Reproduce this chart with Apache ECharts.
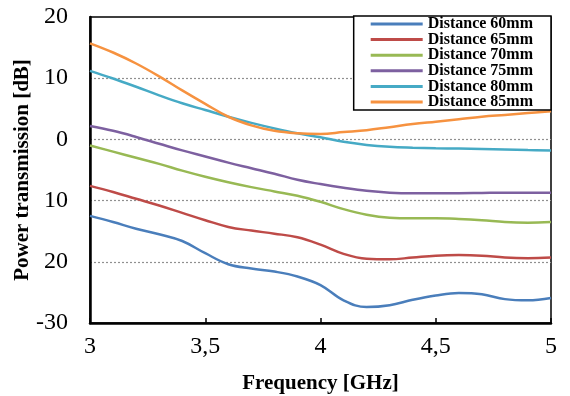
<!DOCTYPE html>
<html>
<head>
<meta charset="utf-8">
<script src="https://cdn.jsdelivr.net/npm/echarts@6/dist/echarts.min.js"></script>
<style>
  html, body { margin: 0; padding: 0; background: #fff; }
  #chart { width: 570px; height: 396px; }
</style>
</head>
<body>
<div id="chart"></div>
<script>
const freq = [3.0, 3.1, 3.2, 3.3, 3.4, 3.5, 3.6, 3.7, 3.8, 3.9, 4.0, 4.1, 4.2, 4.3, 4.4, 4.5, 4.6, 4.7, 4.8, 4.9, 5.0];

const d60 = [-12.5, -13.5, -14.6, -15.5, -16.6, -18.6, -20.4, -21.1, -21.6, -22.4, -23.8, -26.3, -27.4, -27.1, -26.2, -25.5, -25.1, -25.3, -26.1, -26.3, -25.9];
const d65 = [-7.6, -8.6, -9.7, -10.8, -12.0, -13.2, -14.3, -14.9, -15.4, -16.0, -17.2, -18.7, -19.5, -19.6, -19.3, -19.0, -18.9, -19.0, -19.3, -19.4, -19.3];
const d70 = [-1.0, -2.0, -3.0, -4.0, -5.1, -6.1, -7.0, -7.8, -8.5, -9.2, -10.2, -11.4, -12.3, -12.8, -12.9, -12.9, -13.0, -13.2, -13.5, -13.6, -13.5];
const d75 = [2.2, 1.4, 0.4, -0.7, -1.8, -2.8, -3.8, -4.7, -5.6, -6.6, -7.3, -7.9, -8.4, -8.7, -8.8, -8.8, -8.8, -8.75, -8.7, -8.7, -8.7];
const d80 = [11.2, 9.95, 8.6, 7.2, 5.9, 4.8, 3.7, 2.7, 1.8, 1.0, 0.35, -0.4, -0.9, -1.2, -1.35, -1.45, -1.5, -1.55, -1.65, -1.75, -1.8];
const d85 = [15.7, 14.2, 12.4, 10.3, 8.0, 5.8, 3.7, 2.3, 1.4, 1.0, 0.9, 1.2, 1.5, 2.0, 2.5, 2.9, 3.3, 3.7, 4.0, 4.3, 4.6];

const seriesNames = ['Distance 60mm', 'Distance 65mm', 'Distance 70mm', 'Distance 75mm', 'Distance 80mm', 'Distance 85mm'];
const seriesData = [d60, d65, d70, d75, d80, d85];
const colors = ['#4A7EBB', '#BE4B48', '#98B954', '#7D60A0', '#46AAC5', '#F69240'];

const yTickValues = [-30, -20, -10, 0, 10, 20];
const yTickLabels = ['-30', '20', '10', '0', '10', '20'];

const serif = '"Liberation Serif", "Times New Roman", serif';

const chart = echarts.init(document.getElementById('chart'), null, { renderer: 'canvas' });

chart.setOption({
  animation: false,
  grid: {
    left: 90, right: 19, top: 17, bottom: 73,
    outerBoundsMode: 'none',
    containLabel: false,
    show: true, borderColor: '#000', borderWidth: 1.5
  },
  legend: {
    orient: 'vertical',
    right: 19, top: 16,
    backgroundColor: '#fff',
    borderColor: '#000',
    borderWidth: 1.5,
    padding: [0, 18, 0, 17],
    itemWidth: 52,
    itemHeight: 3,
    itemGap: -0.4,
    icon: 'rect',
    textStyle: { fontFamily: serif, fontWeight: 'bold', fontSize: 16, color: '#000', lineHeight: 15 },
    data: seriesNames
  },
  xAxis: {
    type: 'value',
    min: 3, max: 5, interval: 0.5,
    name: 'Frequency [GHz]',
    nameLocation: 'middle',
    nameGap: 50,
    nameMoveOverlap: false,
    nameTextStyle: { fontFamily: serif, fontWeight: 'bold', fontSize: 21, color: '#000' },
    axisLine: { onZero: false, lineStyle: { color: '#000', width: 2.5 } },
    axisTick: { inside: true, length: 5, lineStyle: { color: '#000', width: 1.5 } },
    axisLabel: {
      fontFamily: serif, fontSize: 24, color: '#000', margin: 12,
      formatter: v => String(v).replace('.', ',')
    },
    splitLine: { show: false }
  },
  yAxis: {
    type: 'value',
    min: -30, max: 20, interval: 10,
    name: 'Power transmission [dB]',
    nameLocation: 'middle',
    nameGap: 57,
    nameMoveOverlap: false,
    nameTextStyle: { fontFamily: serif, fontWeight: 'bold', fontSize: 21, color: '#000' },
    axisLine: { show: true, onZero: false, lineStyle: { color: '#000', width: 2.5 } },
    axisTick: { show: false },
    axisLabel: {
      fontFamily: serif, fontSize: 24, color: '#000', margin: 22,
      formatter: v => yTickLabels[yTickValues.indexOf(v)]
    },
    splitLine: {
      show: true,
      showMinLine: false,
      showMaxLine: false,
      lineStyle: { color: '#909090', type: [2, 2], width: 1.2 }
    }
  },
  series: seriesNames.map((name, i) => ({
    name,
    type: 'line',
    smooth: 0.4,
    symbol: 'none',
    color: colors[i],
    lineStyle: { width: 2.5, color: colors[i] },
    data: freq.map((f, j) => [f, seriesData[i][j]])
  }))
});
</script>
</body>
</html>
